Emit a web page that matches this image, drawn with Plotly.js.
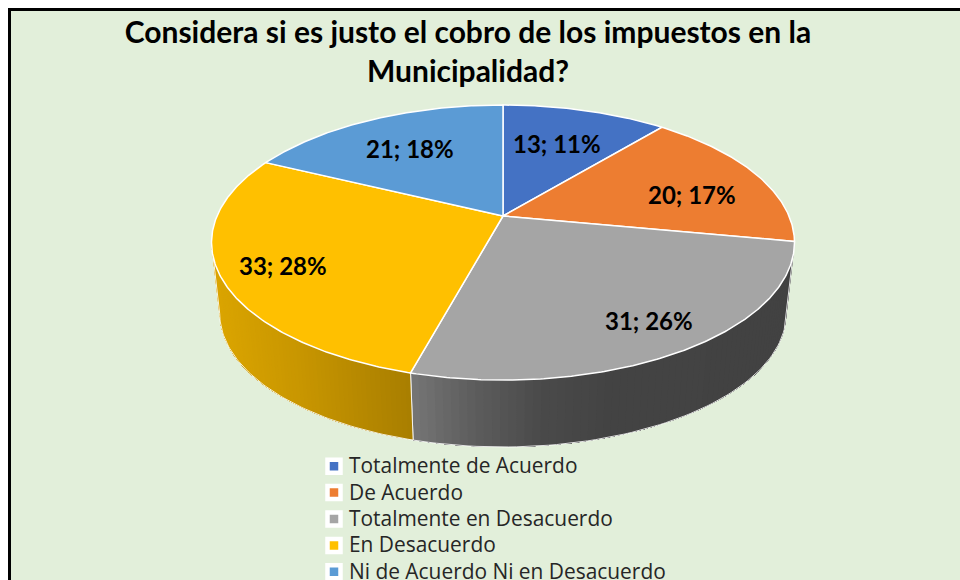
<!DOCTYPE html>
<html><head><meta charset="utf-8">
<script src="https://cdn.plot.ly/plotly-3.0.1.min.js"></script>
<style>html,body{margin:0;padding:0;background:#fff}#c{width:960px;height:580px}
.legend .legendtext{font-size:20.9px !important;transform:translateX(-5px)}
.legend .scrollbox{clip-path:none !important}
</style>
</head><body><div id="c"></div>
<script>
const categories = ["Totalmente de Acuerdo","De Acuerdo","Totalmente en Desacuerdo","En Desacuerdo","Ni de Acuerdo Ni en Desacuerdo"];
const values = [13,20,31,33,21];
const percents = [11,17,26,28,18];
const colors = ["#4472C4","#ED7D31","#A5A5A5","#FFC000","#5B9BD5"];
const chartTitle = "Considera si es justo el cobro de los impuestos en la<br>Municipalidad?";
const labelAnchors = [[557,143],[692,194],[649,320],[283,265],[410,148]];

// projection of the tilted disc
const top_ = {cx:503, cy:216, f:286, g:132.4, k:0.193};
const bot_ = {cx:503, cy:287.5, f:278, g:128.7, k:0.193};
function proj(p, deg){
  const t = deg*Math.PI/180, X = Math.sin(t), Y = Math.cos(t), d = 1 + p.k*Y;
  return [p.cx + p.f*X/d, p.cy - p.g*Y/d];
}
const total = values.reduce((a,b)=>a+b,0);
let acc = 0;
const angles = values.map(v=>{const a=[acc/total*360,(acc+v)/total*360];acc+=v;return a;});

function lerpStops(stops, x){
  for(let i=1;i<stops.length;i++){
    if(x<=stops[i][0]){
      const a=stops[i-1],b=stops[i],t=(x-a[0])/(b[0]-a[0]);
      return 'rgb('+[1,2,3].map(j=>Math.round(a[j]+(b[j]-a[j])*t)).join(',')+')';
    }
  }
  const l=stops[stops.length-1];return `rgb(${l[1]},${l[2]},${l[3]})`;
}
// wall shading along x: [x, r, g, b]
const wallShade = {
  2:[[411,118,118,118],[470,94,94,94],[540,74,74,74],[610,67,67,67],[800,66,66,66]],
  3:[[215,219,165,0],[300,200,150,0],[413,168,126,0]]
};
const traces = [];
const tangent = 90 + Math.asin(top_.k)*180/Math.PI;
[2,3].forEach(i=>{
  const a0 = Math.max(angles[i][0], tangent), a1 = Math.min(angles[i][1], 360-tangent);
  const n = 70;
  const at = s=>a0+(a1-a0)*s/n;
  // each band reaches to the far end of the wall and the next one paints over it, so no seams show
  for(let s=0;s<n;s++){
    const xs=[],ys=[];
    for(let j=s;j<=n;j++){const q=proj(top_,at(j));xs.push(q[0]);ys.push(q[1]);}
    for(let j=n;j>=s;j--){const q=proj(bot_,at(j));xs.push(q[0]);ys.push(q[1]);}
    xs.push(xs[0]);ys.push(ys[0]);
    const col=lerpStops(wallShade[i],(proj(top_,at(s+0.5))[0]+proj(bot_,at(s+0.5))[0])/2);
    traces.push({x:xs,y:ys,mode:'lines',fill:'toself',fillcolor:col,line:{color:col,width:0},hoverinfo:'skip',showlegend:false});
  }
  const xs=[],ys=[];
  for(let s=0;s<=n;s++){const q=proj(bot_,at(s));xs.push(q[0]);ys.push(q[1]);}
  const e0=proj(top_,a0),e1=proj(top_,a1);
  traces.push({x:[e0[0]].concat(xs,[e1[0]]),y:[e0[1]].concat(ys,[e1[1]]),mode:'lines',
    line:{color:'rgba(255,255,255,0.85)',width:1},hoverinfo:'skip',showlegend:false});
});
// top faces
values.forEach((v,i)=>{
  const xs=[top_.cx],ys=[top_.cy],n=Math.max(8,Math.round(v*6));
  for(let s=0;s<=n;s++){const q=proj(top_,angles[i][0]+(angles[i][1]-angles[i][0])*s/n);xs.push(q[0]);ys.push(q[1]);}
  xs.push(top_.cx);ys.push(top_.cy);
  traces.push({x:xs,y:ys,mode:'lines',fill:'toself',fillcolor:colors[i],line:{color:'#fff',width:1.5},
    name:categories[i],text:`${v}; ${percents[i]}%`,hoverinfo:'text+name',showlegend:false});
});
// legend entries
categories.forEach((c,i)=>{
  traces.push({x:[null],y:[null],mode:'markers',name:c,showlegend:true,
    marker:{symbol:'square',size:13,color:colors[i],line:{color:'#fff',width:4.5}}});
});
const annotations = values.map((v,i)=>({x:labelAnchors[i][0],y:labelAnchors[i][1],xref:'x',yref:'y',showarrow:false,
  text:`${v}; ${percents[i]}%`,font:{family:'Lato, Carlito, sans-serif',size:24,color:'#000',weight:700},xanchor:'center',yanchor:'middle'}));
const layout = {
  width:960,height:580,margin:{l:0,r:0,t:0,b:0,autoexpand:false},paper_bgcolor:'#fff',plot_bgcolor:'#fff',
  title:{text:chartTitle,x:468/960,xanchor:'center',y:1-43/580,yanchor:'top',font:{family:'Lato, Carlito, sans-serif',size:30,color:'#000',weight:700}},
  xaxis:{range:[0,960],visible:false,fixedrange:true},
  yaxis:{range:[580,0],visible:false,fixedrange:true},
  shapes:[{type:'rect',xref:'x',yref:'y',x0:9.5,y0:9.5,x1:1000,y1:640,line:{color:'#000',width:3},fillcolor:'#E2EFDA',layer:'below'}],
  annotations,
  showlegend:true,
  legend:{x:314/960,xanchor:'left',y:1-448/580,yanchor:'top',bgcolor:'rgba(0,0,0,0)',borderwidth:0,tracegroupgap:0,
    font:{family:'Open Sans, sans-serif',size:18,color:'#262626'},itemclick:false,itemdoubleclick:false}
};
Plotly.newPlot('c',traces,layout,{displayModeBar:false,staticPlot:true});
</script></body></html>
